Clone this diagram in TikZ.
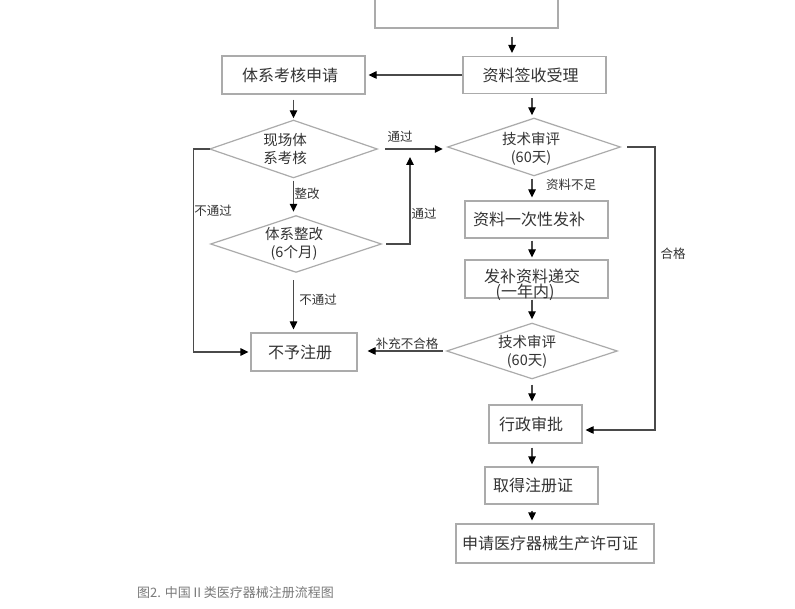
\documentclass[tikz,border=0pt]{standalone}
\usepackage{fontspec}
\setmainfont{Noto Sans CJK SC}
\usetikzlibrary{arrows.meta,calc}
\definecolor{boxc}{HTML}{ABABAB}
\definecolor{linec}{HTML}{4A4A4A}
\definecolor{txt}{HTML}{333333}
\definecolor{capc}{HTML}{7A7A7A}
\tikzset{
  box/.style={draw=boxc, line width=1.2pt, rectangle, inner sep=0pt, font=\fontsize{16}{19}\selectfont, text=txt},
  dia/.style={rectangle, inner sep=0pt, draw=none},
  dshape/.style={draw=boxc, line width=1.2pt, line join=miter},
  dtext/.style={font=\fontsize{14.5}{18}\selectfont, text=txt, align=center, inner sep=0pt},
  btext/.style={font=\fontsize{16}{19}\selectfont, text=txt, inner sep=0pt},
  lab/.style={font=\fontsize{12.5}{14}\selectfont, text=txt, inner sep=0pt},
  arr/.style={draw=linec, line width=1.2pt, -{Triangle[length=8pt,width=7.5pt,color=black]}},
  tx/.style={execute at begin node={\hspace*{#1}}},
}
\begin{document}
\begin{tikzpicture}[x=1pt,y=-1pt]
\useasboundingbox (0,0) rectangle (795,609);
\fill[white] (0,0) rectangle (795,609);
\clip (0,0) rectangle (795,609);

% spine coordinates
\coordinate (sp) at (532,0);
\coordinate (spl) at (293.5,0);
\coordinate (j1) at (410,149);
\coordinate (j2) at (655,0);

% boxes
\node[box, minimum width=183pt, minimum height=60pt] (top) at (466.5,-2) {};
\node[box, minimum width=143pt, minimum height=37pt, tx=-8pt] (receipt) at (534.5,75) {资料签收受理};
\node[box, minimum width=143pt, minimum height=38pt, tx=-7pt] (sysapp) at (293.5,75) {体系考核申请};
\node[box, minimum width=143pt, minimum height=37pt, tx=-15pt] (supp) at (536.5,219.5) {资料一次性发补};
\node[box, minimum width=143pt, minimum height=38pt] (submit) at (536.5,279) {};
\node[btext] (submitt1) at (532,276) {发补资料递交};
\node[btext] (submitt2) at (525,292) {(一年内)};
\node[box, minimum width=106pt, minimum height=38pt, tx=-8pt] (reject) at (304,352) {不予注册};
\node[box, minimum width=93pt, minimum height=38pt, tx=-9pt] (admin) at (535.5,424) {行政审批};
\node[box, minimum width=113pt, minimum height=37pt, tx=-17pt] (cert) at (541.5,485.5) {取得注册证};
\node[box, minimum width=198pt, minimum height=39pt, tx=-10pt] (prod) at (555,543.5) {申请医疗器械生产许可证};

% diamonds
\node[dia, minimum width=167pt, minimum height=57pt] (d1) at (293.5,149) {};
\draw[dshape] (d1.north) -- (d1.east) -- (d1.south) -- (d1.west) -- cycle;
\node[dtext] (d1t) at (285,149) {现场体\\系考核};

\node[dia, minimum width=172pt, minimum height=57pt] (tr1) at (534,147) {};
\draw[dshape] (tr1.north) -- (tr1.east) -- (tr1.south) -- (tr1.west) -- cycle;
\node[dtext] (tr1t) at (531,149) {技术审评\\(60天)};

\node[dia, minimum width=170pt, minimum height=56pt] (d2) at (296,244) {};
\draw[dshape] (d2.north) -- (d2.east) -- (d2.south) -- (d2.west) -- cycle;
\node[dtext] (d2t) at (294,244) {体系整改\\(6个月)};

\node[dia, minimum width=170pt, minimum height=55pt] (tr2) at (532,351) {};
\draw[dshape] (tr2.north) -- (tr2.east) -- (tr2.south) -- (tr2.west) -- cycle;
\node[dtext] (tr2t) at (527,352) {技术审评\\(60天)};

% connectors
\draw[arr] ([xshift=45.5pt,yshift=-8pt]top.south) -- ([xshift=-22.5pt,yshift=3pt]receipt.north);
\draw[arr, shorten >=3pt] (receipt.west) -- (sysapp.east);
\draw[arr, shorten <=5pt, shorten >=2pt] (sysapp.south) -- (d1.north);
\draw[arr, shorten <=4pt, shorten >=3pt] (sp |- receipt.south) -- (sp |- tr1.north);
\draw[arr, shorten <=8pt, shorten >=5pt] (d1.east) -- (d1.east -| tr1.west);
\node[lab] (l1) at (400,137) {通过};
\draw[arr, shorten <=3pt, shorten >=4pt] (d1.south) -- (d1.south |- d2.north);
\node[lab] (l2) at (307,194) {整改};
\draw[arr] ([xshift=5pt]d2.east) -| ([yshift=-8pt]j1);
\node[lab] (l3) at (424,214) {通过};
\draw[arr, shorten >=2pt] (d1.west) -- ++(-16,0) |- (reject.west);
\node[lab] (l4) at (213,211) {不通过};
\draw[arr, shorten <=8pt, shorten >=3pt] (spl |- d2.south) -- (spl |- reject.north);
\node[lab] (l5) at (318,300) {不通过};
\draw[arr, shorten <=3pt, shorten >=3pt] (sp |- tr1.south) -- (sp |- supp.north);
\node[lab] (l6) at (571,185) {资料不足};
\draw[arr, shorten <=2pt, shorten >=2pt] (sp |- supp.south) -- (sp |- submit.north);
\draw[arr, shorten <=1pt, shorten >=4pt] (sp |- submit.south) -- (sp |- tr2.north);
\draw[arr, shorten <=4pt, shorten >=10pt] (tr2.west) -- (tr2.west -| reject.east);
\node[lab] (l7) at (407,344) {补充不合格};
\draw[arr, shorten <=6pt, shorten >=3pt] (sp |- tr2.south) -- (sp |- admin.north);
\draw[arr, shorten >=3pt] ([xshift=7pt]tr1.east) -- (j2 |- tr1.east) |- ([yshift=-6pt]admin.east);
\node[lab] (l8) at (673,254) {合格};
\draw[arr, shorten <=4pt, shorten >=2pt] (sp |- admin.south) -- (sp |- cert.north);
\draw[arr, shorten <=6pt, shorten >=3pt] (sp |- cert.south) -- (sp |- prod.north);

% caption
\node[anchor=west, font=\fontsize{13}{15}\selectfont, text=capc, inner sep=0pt] (cap) at (137,593) {图2. 中国Ⅱ类医疗器械注册流程图};
\end{tikzpicture}
\end{document}
